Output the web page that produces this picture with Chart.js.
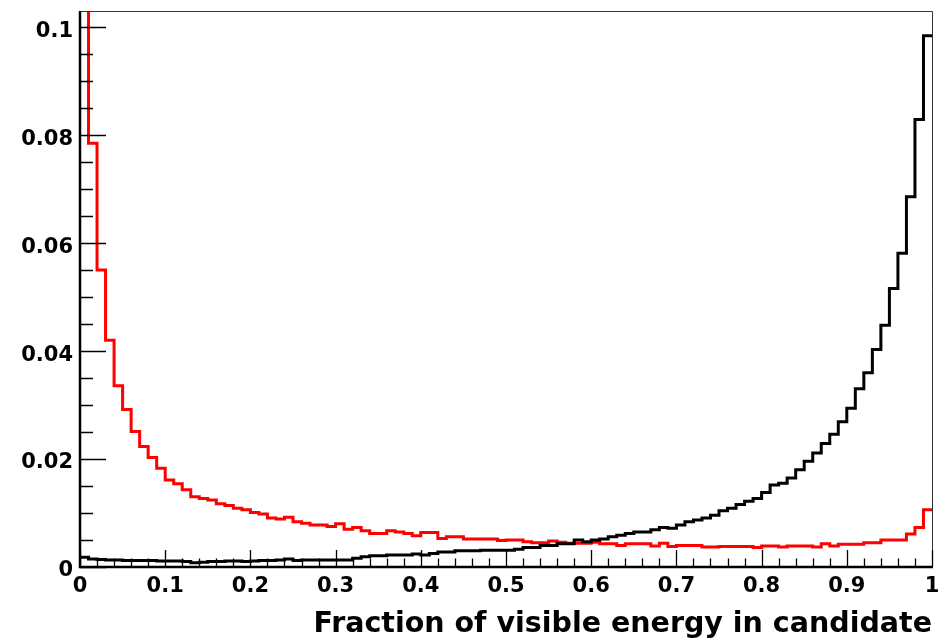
<!DOCTYPE html>
<html>
<head>
<meta charset="utf-8">
<script src="https://cdn.jsdelivr.net/npm/chart.js@4"></script>
<style>
  body { margin: 0; background: #fff; }
  canvas { display: block; }
</style>
</head>
<body>
<canvas id="hist" width="944" height="642"></canvas>
<script>
// histogram binning: 100 bins between 0 and 1
const nBins = 100;
const xMin = 0, xMax = 1;
const yMin = 0, yMax = 0.103;

// bin contents (first red bin runs off the top)
const blackValues = [
  0.0018, 0.0015, 0.0014, 0.0013, 0.0013, 0.0012, 0.0012, 0.0012, 0.0012, 0.0011,
  0.0011, 0.0011, 0.0010, 0.0008, 0.0009, 0.0010, 0.0010, 0.0011, 0.0011, 0.0010,
  0.0011, 0.0012, 0.0012, 0.0013, 0.0015, 0.0012, 0.0013, 0.0013, 0.0013, 0.0013,
  0.0013, 0.0013, 0.0016, 0.0019, 0.0021, 0.0021, 0.0022, 0.0022, 0.0022, 0.0024,
  0.0022, 0.0025, 0.0028, 0.0028, 0.0030, 0.0030, 0.0030, 0.0031, 0.0031, 0.0031,
  0.0031, 0.0033, 0.0036, 0.0036, 0.0040, 0.0040, 0.0043, 0.0043, 0.0050, 0.0047,
  0.0050, 0.0052, 0.0056, 0.0059, 0.0062, 0.0065, 0.0065, 0.0069, 0.0073, 0.0072,
  0.0078, 0.0084, 0.0087, 0.0091, 0.0096, 0.0104, 0.0109, 0.0116, 0.0122, 0.0127,
  0.0138, 0.0152, 0.0155, 0.0165, 0.0180, 0.0196, 0.0211, 0.0229, 0.0246, 0.0269,
  0.0294, 0.0330, 0.0360, 0.0403, 0.0448, 0.0516, 0.0581, 0.0686, 0.0829, 0.0984
];
const redValues = [
  0.1500, 0.0785, 0.0550, 0.0420, 0.0336, 0.0292, 0.0251, 0.0223, 0.0203, 0.0183,
  0.0161, 0.0154, 0.0143, 0.0130, 0.0127, 0.0124, 0.0117, 0.0114, 0.0109, 0.0106,
  0.0101, 0.0098, 0.0091, 0.0089, 0.0092, 0.0084, 0.0081, 0.0078, 0.0078, 0.0075,
  0.0080, 0.0070, 0.0073, 0.0067, 0.0062, 0.0062, 0.0067, 0.0065, 0.0062, 0.0058,
  0.0064, 0.0064, 0.0053, 0.0056, 0.0056, 0.0052, 0.0052, 0.0052, 0.0052, 0.0049,
  0.0050, 0.0050, 0.0047, 0.0045, 0.0045, 0.0048, 0.0046, 0.0044, 0.0044, 0.0044,
  0.0046, 0.0043, 0.0043, 0.0040, 0.0043, 0.0043, 0.0043, 0.0039, 0.0044, 0.0038,
  0.0040, 0.0040, 0.0040, 0.0037, 0.0037, 0.0038, 0.0038, 0.0038, 0.0038, 0.0036,
  0.0039, 0.0039, 0.0037, 0.0039, 0.0039, 0.0039, 0.0037, 0.0043, 0.0039, 0.0042,
  0.0042, 0.0042, 0.0045, 0.0045, 0.0050, 0.0050, 0.0050, 0.0061, 0.0073, 0.0106
];

// axis ticks and labels
const xTickValues = [0, 0.1, 0.2, 0.3, 0.4, 0.5, 0.6, 0.7, 0.8, 0.9, 1];
const xTickLabels = ["0", "0.1", "0.2", "0.3", "0.4", "0.5", "0.6", "0.7", "0.8", "0.9", "1"];
const yTickValues = [0, 0.02, 0.04, 0.06, 0.08, 0.1];
const yTickLabels = ["0", "0.02", "0.04", "0.06", "0.08", "0.1"];
const xMinorStep = 0.02;
const yMinorStep = 0.005;
const xTitle = "Fraction of visible energy in candidate";

// bin edges -> step points
const binEdges = [];
for (let i = 0; i <= nBins; i++) binEdges.push(xMin + i * (xMax - xMin) / nBins);

function histPoints(values) {
    const pts = values.map((v, i) => ({x: binEdges[i], y: v}));
    pts.push({x: binEdges[nBins], y: values[nBins - 1]});
    return pts;
}

// ROOT-like frame with ticks drawn inside the pad
const rootAxes = {
    id: "rootAxes",
    afterDatasetsDraw(chart) {
        const {ctx, chartArea: a, scales: {x, y}} = chart;
        ctx.save();

        // thin top / right frame
        ctx.strokeStyle = "#333";
        ctx.lineWidth = 1;
        ctx.beginPath();
        ctx.moveTo(a.left, a.top + 0.5);
        ctx.lineTo(a.right + 0.5, a.top + 0.5);
        ctx.lineTo(a.right + 0.5, a.bottom);
        ctx.stroke();

        ctx.strokeStyle = "#000";
        ctx.lineWidth = 1.3;
        ctx.beginPath();
        // y ticks
        for (let v = yMin; v <= yMax + 1e-9; v += yMinorStep) {
            const py = Math.round(y.getPixelForValue(v)) + 0.5;
            const major = yTickValues.some(t => Math.abs(t - v) < 1e-6);
            ctx.moveTo(a.left, py);
            ctx.lineTo(a.left + (major ? 26 : 13), py);
        }
        // x ticks
        for (let v = xMin; v <= xMax + 1e-9; v += xMinorStep) {
            const px = Math.round(x.getPixelForValue(v)) + 0.5;
            const major = xTickValues.some(t => Math.abs(t - v) < 1e-6);
            ctx.moveTo(px, a.bottom);
            ctx.lineTo(px, a.bottom - (major ? 17 : 8.5));
        }
        ctx.stroke();

        // thick left / bottom axes
        ctx.lineWidth = 2.5;
        ctx.beginPath();
        ctx.moveTo(a.left, a.top);
        ctx.lineTo(a.left, a.bottom);
        ctx.lineTo(a.right + 1, a.bottom);
        ctx.stroke();
        ctx.restore();
    }
};

const tickFont = {family: "'DejaVu Sans'", size: 21, weight: "bold"};

new Chart("hist", {
    type: "line",
    data: {
        datasets: [{
            data: histPoints(blackValues),
            borderColor: "#000000",
            borderWidth: 3,
            stepped: "before",
            pointRadius: 0,
            fill: false,
            borderJoinStyle: "miter",
            borderCapStyle: "butt"
        }, {
            data: histPoints(redValues),
            borderColor: "#ff0000",
            borderWidth: 3,
            stepped: "before",
            pointRadius: 0,
            fill: false,
            borderJoinStyle: "miter",
            borderCapStyle: "butt"
        }]
    },
    options: {
        responsive: false,
        animation: false,
        devicePixelRatio: 1,
        layout: {padding: {left: 0, right: 12, top: 11, bottom: 0}},
        plugins: {
            legend: {display: false},
            tooltip: {enabled: false}
        },
        scales: {
            x: {
                type: "linear",
                min: xMin,
                max: xMax,
                grid: {display: false, drawTicks: false},
                border: {display: false},
                afterBuildTicks: s => { s.ticks = xTickValues.map(v => ({value: v})); },
                afterFit: s => { s.height = 75; s.paddingLeft = 0; s.paddingRight = 0; },
                ticks: {
                    color: "#000",
                    font: tickFont,
                    padding: 7,
                    maxRotation: 0,
                    autoSkip: false,
                    callback: (value, index) => xTickLabels[index]
                },
                title: {
                    display: true,
                    text: xTitle,
                    align: "end",
                    color: "#000",
                    font: {family: "'DejaVu Sans'", size: 28.5, weight: "bold"},
                    padding: {top: 0, bottom: 0}
                }
            },
            y: {
                type: "linear",
                min: yMin,
                max: yMax,
                grid: {display: false, drawTicks: false},
                border: {display: false},
                afterBuildTicks: s => { s.ticks = yTickValues.map(v => ({value: v})); },
                afterFit: s => { s.width = 80; s.paddingTop = 0; s.paddingBottom = 0; },
                ticks: {
                    color: "#000",
                    font: tickFont,
                    padding: 7,
                    labelOffset: 4,
                    autoSkip: false,
                    callback: (value, index) => yTickLabels[index]
                }
            }
        }
    },
    plugins: [rootAxes]
});
</script>
</body>
</html>
